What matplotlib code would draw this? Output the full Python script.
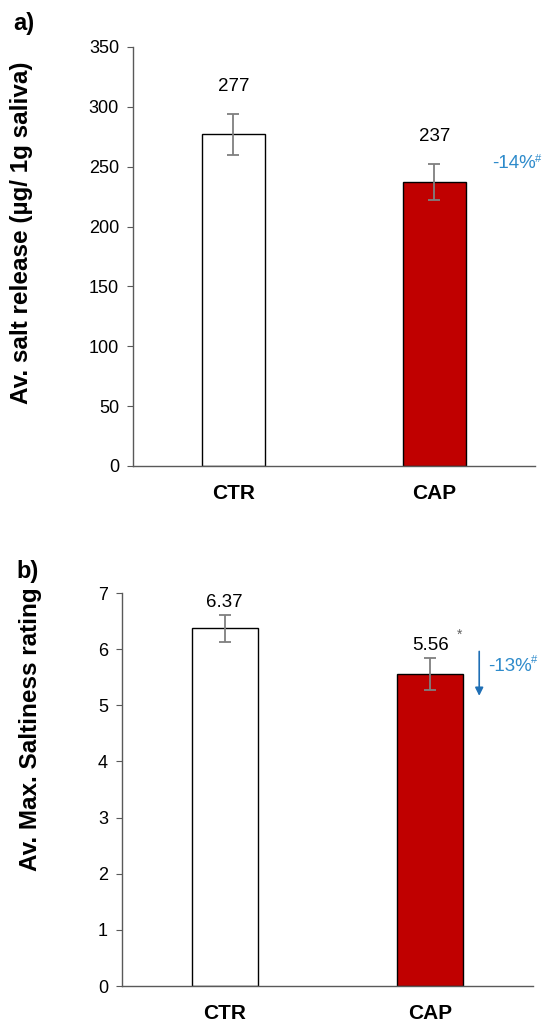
import matplotlib
matplotlib.use("Agg")
import matplotlib.pyplot as plt

categories = ["CTR", "CAP"]
salt_values = [277, 237]
salt_errors = [17, 15]
salt_labels = ["277", "237"]
rating_values = [6.37, 5.56]
rating_errors = [0.24, 0.28]
rating_labels = ["6.37", "5.56"]
colors = ["white", "#C00000"]

plt.rcParams['font.family'] = ['Liberation Sans', 'DejaVu Sans']

fig = plt.figure(figsize=(5.43, 10.25), dpi=100)
ax1 = fig.add_axes([0.2449, 0.5454, 0.7403, 0.4088])
ax2 = fig.add_axes([0.2247, 0.038, 0.757, 0.3834])

blue = "#2E8BCB"
dark_blue = "#1F6FB5"

def style(ax, ymax, step, ylabel, labelsize, label_xy):
    ax.set_xlim(-0.5, 1.5)
    ax.set_ylim(0, ymax)
    ax.set_yticks([i * step for i in range(int(round(ymax / step)) + 1)])
    for s in ["top", "right"]:
        ax.spines[s].set_visible(False)
    for s in ["left", "bottom"]:
        ax.spines[s].set_color("#595959")
        ax.spines[s].set_linewidth(1.0)
    ax.tick_params(axis="y", direction="out", length=4, color="#595959", labelsize=13, pad=6)
    ax.tick_params(axis="x", length=0, labelsize=15, pad=13)
    ax.set_xticks(range(len(categories)))
    ax.set_xticklabels(categories, fontweight="bold")
    ax.set_ylabel(ylabel, fontsize=labelsize, fontweight="bold")
    ax.yaxis.set_label_coords(*label_xy)

err_kw = dict(ecolor="#7F7F7F", capsize=4, elinewidth=1.3, capthick=1.3)

ax1.bar(range(2), salt_values, width=0.31, color=colors, edgecolor="black", linewidth=1.0,
        yerr=salt_errors, error_kw=err_kw)
style(ax1, 350, 50, "Av. salt release (µg/ 1g saliva)", 17.5, (-0.248, 0.556))
for i, (v, e, t) in enumerate(zip(salt_values, salt_errors, salt_labels)):
    ax1.text(i, v + e + 23, t, ha="center", va="center", fontsize=13.5)
ax1.text(1.289, 253, "-14%", color=blue, fontsize=13.5, ha="left", va="center")
ax1.text(1.5, 256, "#", color=blue, fontsize=8, ha="left", va="center")
fig.text(0.024, 0.977, "a)", fontsize=17, fontweight="bold", ha="left", va="center")

ax2.bar(range(2), rating_values, width=0.32, color=colors, edgecolor="black", linewidth=1.0,
        yerr=rating_errors, error_kw=err_kw)
style(ax2, 7, 1, "Av. Max. Saltiness rating", 17.5, (-0.194, 0.654))
for i, (v, e, t) in enumerate(zip(rating_values, rating_errors, rating_labels)):
    ax2.text(i, v + e + 0.225, t, ha="center", va="center", fontsize=13.5)
ax2.text(1.13, 6.26, "*", fontsize=10, color="#606060", ha="left", va="center")
ax2.annotate("", xy=(1.238, 5.12), xytext=(1.238, 6.01),
             arrowprops=dict(arrowstyle="-|>", color=dark_blue, lw=1.2, mutation_scale=12))
ax2.text(1.282, 5.70, "-13%", color=blue, fontsize=13.5, ha="left", va="center")
ax2.text(1.49, 5.80, "#", color=blue, fontsize=8, ha="left", va="center")
fig.text(0.031, 0.442, "b)", fontsize=17, fontweight="bold", ha="left", va="center")

fig.savefig("out.png", dpi=100)
